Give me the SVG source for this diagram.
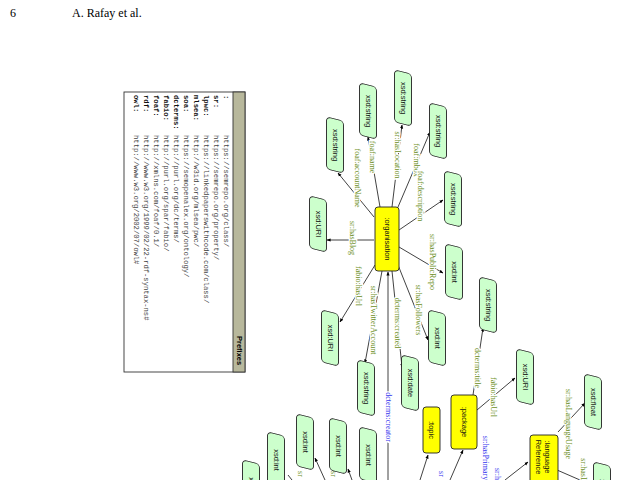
<svg xmlns="http://www.w3.org/2000/svg" width="619" height="480" viewBox="0 0 619 480">
<defs>
<marker id="ar" viewBox="0 0 10 10" refX="9" refY="5" markerWidth="5" markerHeight="5" orient="auto"><path d="M0,1 L10,5 L0,9 Z" fill="#000"/></marker>
<rect id="sh" x="-26" y="-8.5" width="52" height="17" rx="4" transform="skewX(-14)"/>
<style>
.dt use{fill:#ccffcc;stroke:#222;stroke-width:0.9}
.cl rect{fill:#ffff00;stroke:#222;stroke-width:0.9}
.nt{font-family:"Liberation Sans",Arial,sans-serif;font-size:7.5px;fill:#111;text-anchor:middle;dominant-baseline:central}
.lb,.lbb{font-family:"Liberation Serif",serif;font-size:8px;text-anchor:middle;dominant-baseline:central;stroke:#fff;stroke-width:2.5px;paint-order:stroke}
.lb{fill:#6b8e23}
.lbb{fill:#3333ee}
.e{stroke:#111;stroke-width:0.8;fill:none;marker-end:url(#ar)}
.pl,.pk{font-family:"Liberation Mono",monospace;font-size:7.2px;dominant-baseline:central}
.pl{fill:#444}
.pk{font-weight:bold;fill:#111}
</style>
</defs>
<rect width="619" height="480" fill="#fff"/>
<text x="10" y="17" font-family="Liberation Serif,serif" font-size="12">6</text>
<text x="72" y="17" font-family="Liberation Serif,serif" font-size="12">A. Rafay et al.</text>

<g id="prefixes">
<rect x="124" y="92" width="121" height="280" fill="#fff" stroke="#333" stroke-width="0.9"/>
<rect x="233" y="92" width="12" height="280" fill="#b8b89c" stroke="#333" stroke-width="0.9"/>
<text transform="translate(239,336) rotate(90)" font-family="Liberation Sans,sans-serif" font-size="7.5" font-weight="bold" dominant-baseline="central">Prefixes</text>
<text class="pk" transform="translate(226,95) rotate(90)">:</text><text class="pl" transform="translate(226,135) rotate(90)">https://semrepo.org/class/</text>
<text class="pk" transform="translate(216,95) rotate(90)">sr:</text><text class="pl" transform="translate(216,135) rotate(90)">https://semrepo.org/property/</text>
<text class="pk" transform="translate(206,95) rotate(90)">lpwc:</text><text class="pl" transform="translate(206,135) rotate(90)">https://linkedpaperswithcode.com/class/</text>
<text class="pk" transform="translate(196,95) rotate(90)">mlsea:</text><text class="pl" transform="translate(196,135) rotate(90)">http://w3id.org/mlsea/pwc/</text>
<text class="pk" transform="translate(186,95) rotate(90)">soa:</text><text class="pl" transform="translate(186,135) rotate(90)">https://semopenalex.org/ontology/</text>
<text class="pk" transform="translate(176,95) rotate(90)">dcterms:</text><text class="pl" transform="translate(176,135) rotate(90)">http://purl.org/dc/terms/</text>
<text class="pk" transform="translate(166,95) rotate(90)">fabio:</text><text class="pl" transform="translate(166,135) rotate(90)">http://purl.org/spar/fabio/</text>
<text class="pk" transform="translate(156,95) rotate(90)">foaf:</text><text class="pl" transform="translate(156,135) rotate(90)">http://xmlns.com/foaf/0.1/</text>
<text class="pk" transform="translate(146,95) rotate(90)">rdf:</text><text class="pl" transform="translate(146,135) rotate(90)">http://www.w3.org/1999/02/22-rdf-syntax-ns#</text>
<text class="pk" transform="translate(136,95) rotate(90)">owl:</text><text class="pl" transform="translate(136,135) rotate(90)">http://www.w3.org/2002/07/owl#</text>
</g>

<g id="connectors">
<line class="e" x1="374" y1="217" x2="338" y2="173"/>
<line class="e" x1="380" y1="207" x2="368" y2="137"/>
<line class="e" x1="392" y1="207" x2="402" y2="125"/>
<line class="e" x1="398" y1="207" x2="430" y2="132"/>
<line class="e" x1="399" y1="230" x2="443" y2="200"/>
<line class="e" x1="399" y1="247" x2="443" y2="273"/>
<line class="e" x1="374" y1="240" x2="327" y2="240"/>
<line class="e" x1="375" y1="265" x2="340" y2="322"/>
<line class="e" x1="382" y1="271" x2="365" y2="363"/>
<line class="e" x1="392" y1="271" x2="402" y2="367"/>
<line class="e" x1="398" y1="265" x2="428" y2="340"/>
<line class="e" x1="388" y1="480" x2="388" y2="272"/>
<line class="e" x1="473" y1="395" x2="483" y2="328"/>
<line class="e" x1="477" y1="410" x2="515" y2="378"/>
<line class="e" x1="558" y1="432" x2="585" y2="403"/>
<line class="e" x1="450" y1="480" x2="463" y2="450"/>
<line class="e" x1="420" y1="480" x2="428" y2="455"/>
<line class="e" x1="505" y1="480" x2="528" y2="462"/>
<line x1="557" y1="470" x2="580" y2="480" stroke="#111" stroke-width="0.8"/>
<line class="e" x1="325" y1="480" x2="315" y2="458"/>
<line class="e" x1="352" y1="480" x2="348" y2="469"/>
<line x1="292" y1="480" x2="288" y2="475" stroke="#111" stroke-width="0.8"/>
</g>

<g id="labels">
<text class="lb" transform="translate(357,178) rotate(90)">foaf:accountName</text>
<text class="lb" transform="translate(372,157) rotate(90)">foaf:name</text>
<text class="lb" transform="translate(397,155) rotate(90)">sr:hasLocation</text>
<text class="lb" transform="translate(416,160) rotate(90)">foaf:mbox</text>
<text class="lb" transform="translate(420,196) rotate(90)">foaf:description</text>
<text class="lb" transform="translate(352,238) rotate(90)">sr:hasBlog</text>
<text class="lb" transform="translate(358,286) rotate(90)">fabio:hasUrl</text>
<text class="lb" transform="translate(432,262) rotate(90)">sr:hasPublicRepo</text>
<text class="lb" transform="translate(418,310) rotate(90)">sr:hasFollowers</text>
<text class="lb" transform="translate(373,320) rotate(90)">sr:hasTwitterAccount</text>
<text class="lb" transform="translate(397,323) rotate(90)">dcterms:created</text>
<text class="lbb" transform="translate(388,417) rotate(90)">dcterms:creator</text>
<text class="lb" transform="translate(477,368) rotate(90)">dcterms:title</text>
<text class="lb" transform="translate(493,397) rotate(90)">fabio:hasUrl</text>
<text class="lb" transform="translate(568,424) rotate(90)">sr:hasLanguageUsage</text>
<text class="lbb" transform="translate(485,458) rotate(90)">sr:hasPrimary</text>
<text class="lbb" transform="translate(497,474) rotate(90)">sr:h</text>
<text class="lb" transform="translate(583,470) rotate(90)">sr:hasL</text>
<text class="lbb" transform="translate(441,474) rotate(90)">sr</text>
<text class="lb" transform="translate(300,474) rotate(90)">sr</text>
<text class="lb" transform="translate(333,474) rotate(90)">sr</text>
</g>

<g id="organisation" class="cl"><rect x="375" y="207" width="24" height="64" rx="3"/><text class="nt" transform="translate(387,239) rotate(90)">:organisation</text></g>
<g id="topic" class="cl"><rect x="423" y="407" width="17" height="46" rx="3"/><text class="nt" transform="translate(431.5,430) rotate(90)">:topic</text></g>
<g id="package" class="cl"><rect x="451" y="395" width="26" height="54" rx="3"/><text class="nt" transform="translate(464,422) rotate(90)">:package</text></g>
<g id="languageReference" class="cl"><rect x="530" y="435" width="28" height="60" rx="3"/><text class="nt" transform="translate(544,457) rotate(90)"><tspan x="0" dy="-4">:language</tspan><tspan x="0" dy="9">Reference</tspan></text></g>

<g id="n1" class="dt" transform="translate(335,145) rotate(90)"><use href="#sh"/><text class="nt">xsd:string</text></g>
<g id="n2" class="dt" transform="translate(368,111) rotate(90)"><use href="#sh"/><text class="nt">xsd:string</text></g>
<g id="n3" class="dt" transform="translate(403,98) rotate(90)"><use href="#sh"/><text class="nt">xsd:string</text></g>
<g id="n4" class="dt" transform="translate(438,131) rotate(90)"><use href="#sh"/><text class="nt">xsd:string</text></g>
<g id="n5" class="dt" transform="translate(453,199) rotate(90)"><use href="#sh"/><text class="nt">xsd:string</text></g>
<g id="n6" class="dt" transform="translate(454,272) rotate(90)"><use href="#sh"/><text class="nt">xsd:int</text></g>
<g id="n7" class="dt" transform="translate(318,224) rotate(90)"><use href="#sh"/><text class="nt">xsd:URI</text></g>
<g id="n8" class="dt" transform="translate(330,338) rotate(90)"><use href="#sh"/><text class="nt">xsd:URI</text></g>
<g id="n9" class="dt" transform="translate(366,388) rotate(90)"><use href="#sh"/><text class="nt">xsd:string</text></g>
<g id="n10" class="dt" transform="translate(410,383) rotate(90)"><use href="#sh"/><text class="nt">xsd:date</text></g>
<g id="n11" class="dt" transform="translate(437,338) rotate(90)"><use href="#sh"/><text class="nt">xsd:int</text></g>
<g id="n12" class="dt" transform="translate(488,305) rotate(90)"><use href="#sh"/><text class="nt">xsd:string</text></g>
<g id="n13" class="dt" transform="translate(525,377) rotate(90)"><use href="#sh"/><text class="nt">xsd:URI</text></g>
<g id="n14" class="dt" transform="translate(593,402) rotate(90)"><use href="#sh"/><text class="nt">xsd:float</text></g>
<g id="n15" class="dt" transform="translate(305,442) rotate(90)"><use href="#sh"/><text class="nt">xsd:int</text></g>
<g id="n16" class="dt" transform="translate(338,446) rotate(90)"><use href="#sh"/><text class="nt">xsd:int</text></g>
<g id="n17" class="dt" transform="translate(368,455) rotate(90)"><use href="#sh"/><text class="nt">xsd:int</text></g>
<g id="n18" class="dt" transform="translate(276,460) rotate(90)"><use href="#sh"/><text class="nt">xsd:int</text></g>
<g id="n19" class="dt" transform="translate(251,488) rotate(90)"><use href="#sh"/><text class="nt">xsd:int</text></g>
<g id="n20" class="dt" transform="translate(602,490) rotate(90)"><use href="#sh"/><text class="nt">xsd:int</text></g>
</svg>
